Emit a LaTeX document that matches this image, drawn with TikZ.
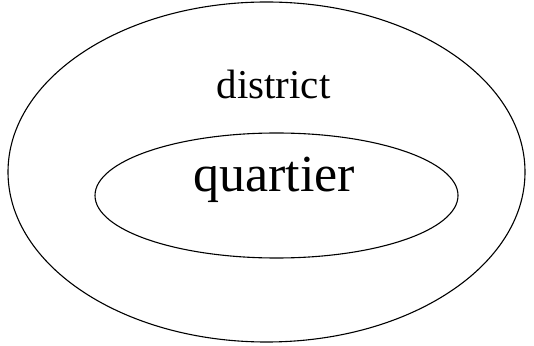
\documentclass[tikz,border=0pt]{standalone}
\usepackage{fontspec}
\setmainfont{Liberation Serif}
\begin{document}
\begin{tikzpicture}[x=1pt,y=1pt,
  ring/.style={draw=black, line width=1.1pt},
  lbl/.style={anchor=base, inner sep=0pt}]
\useasboundingbox (0,0) rectangle (534,345);
\draw[ring] (266.5,173) ellipse [x radius=258.5, y radius=170];
\draw[ring] (276.5,149.5) ellipse [x radius=181.5, y radius=62.5];
\node[lbl, font=\fontsize{41}{48}\selectfont] (district) at (273.5,246) {district};
\node[lbl, font=\fontsize{52}{60}\selectfont] (quartier) at (274,153) {quartier};
\end{tikzpicture}
\end{document}
